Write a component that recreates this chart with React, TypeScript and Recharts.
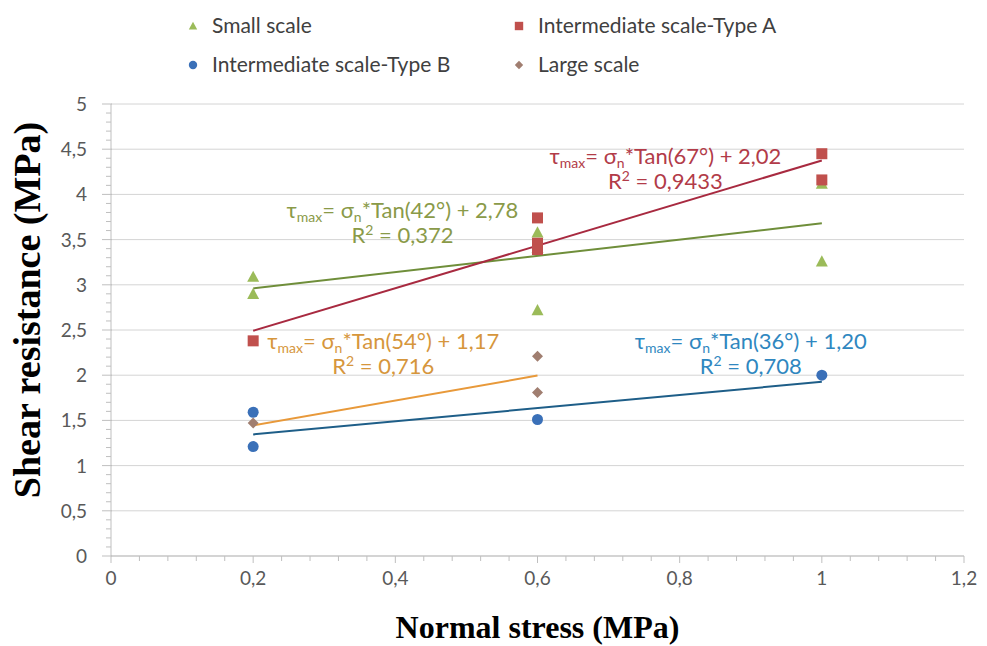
import React from 'react';
import {
  ScatterChart,
  Scatter,
  XAxis,
  YAxis,
  CartesianGrid,
  ReferenceLine,
  ReferenceDot,
  Label,
} from 'recharts';

// ---------- data ----------
const smallScale = [
  { x: 0.2, y: 3.09 },
  { x: 0.2, y: 2.9 },
  { x: 0.6, y: 3.58 },
  { x: 0.6, y: 3.41 },
  { x: 0.6, y: 2.72 },
  { x: 1.0, y: 4.12 },
  { x: 1.0, y: 3.26 },
];
const intermediateA = [
  { x: 0.2, y: 2.38 },
  { x: 0.6, y: 3.74 },
  { x: 0.6, y: 3.46 },
  { x: 0.6, y: 3.39 },
  { x: 1.0, y: 4.45 },
  { x: 1.0, y: 4.16 },
];
const intermediateB = [
  { x: 0.2, y: 1.59 },
  { x: 0.2, y: 1.21 },
  { x: 0.6, y: 1.51 },
  { x: 1.0, y: 2.0 },
];
const largeScale = [
  { x: 0.2, y: 1.47 },
  { x: 0.6, y: 2.21 },
  { x: 0.6, y: 1.81 },
];

const seriesNames = ['Small scale', 'Intermediate scale-Type A', 'Intermediate scale-Type B', 'Large scale'];
const seriesColors = ['#9BBB59', '#C0504D', '#3A70B8', '#A07E70'];
const trendColors = ['#6F8E3A', '#A82A40', '#1E5E88', '#E8993A'];
const eqColors = ['#8A9A48', '#B23B48', '#2F87C0', '#D6963C'];

// trendline parameters (angle in degrees, intercept)
const trendAngles = [42, 67, 36, 54];
const trendIntercepts = [2.78, 2.02, 1.2, 1.17];
const trendStart = [0.2, 0.2, 0.2, 0.2];
const trendEnd = [1.0, 1.0, 1.0, 0.6];
const interceptLabels = ['2,78', '2,02', '1,20', '1,17'];
const r2Labels = ['0,372', '0,9433', '0,708', '0,716'];
// annotation anchor (data coords, baseline of first line, centred)
const eqX = [0.41, 0.78, 0.9, 0.383];
const eqY = [3.74, 4.34, 2.29, 2.29];

const yMajorTicks = [0, 0.5, 1, 1.5, 2, 2.5, 3, 3.5, 4, 4.5, 5];
const xAllTicks = Array.from({ length: 31 }, (_, i) => +(i * 0.04).toFixed(2));
const yAllTicks = Array.from({ length: 51 }, (_, i) => +(i * 0.1).toFixed(1));

const FONT = 'Lato, "Open Sans", sans-serif';
const SERIF = '"Liberation Serif", "Times New Roman", serif';
const AXIS_COLOR = '#BFBFBF';
const LABEL_COLOR = '#595959';

const fmt = (v: number) => String(+v.toFixed(2)).replace('.', ',');
const isMajor = (v: number, step: number) => Math.abs(v / step - Math.round(v / step)) < 1e-6;

// ---------- shapes ----------
const Tri = ({ cx, cy, fill, s = 6 }: any) => (
  <polygon points={`${cx},${cy - s} ${cx + s},${cy + s * 0.85} ${cx - s},${cy + s * 0.85}`} fill={fill} />
);
const Sq = ({ cx, cy, fill, s = 5.5 }: any) => (
  <rect x={cx - s} y={cy - s} width={2 * s} height={2 * s} fill={fill} />
);
const Circ = ({ cx, cy, fill, s = 5.5 }: any) => <circle cx={cx} cy={cy} r={s} fill={fill} />;
const Dia = ({ cx, cy, fill, s = 5.5 }: any) => (
  <polygon points={`${cx},${cy - s} ${cx + s},${cy} ${cx},${cy + s} ${cx - s},${cy}`} fill={fill} />
);
const shapes = [Tri, Sq, Circ, Dia];

// ---------- ticks ----------
const YTick = ({ x, y, payload }: any) => {
  const v = payload.value;
  const major = isMajor(v, 0.5);
  return (
    <g>
      <line x1={x - (major ? 9 : 5)} x2={x + (major ? 1 : 0)} y1={y} y2={y} stroke={AXIS_COLOR} strokeWidth={1} />
      {major && (
        <text x={x - 24} y={y} dy={7} textAnchor="end" fontFamily={FONT} fontSize={19} fill={LABEL_COLOR}>
          {fmt(v)}
        </text>
      )}
    </g>
  );
};
const XTick = ({ x, y, payload }: any) => {
  const v = payload.value;
  const major = isMajor(v, 0.2);
  return (
    <g>
      <line x1={x} x2={x} y1={y} y2={y + (major ? 7 : 5)} stroke={AXIS_COLOR} strokeWidth={1} />
      {major && (
        <text x={x} y={y + 29} textAnchor="middle" fontFamily={FONT} fontSize={19} fill={LABEL_COLOR}>
          {fmt(v)}
        </text>
      )}
    </g>
  );
};

// ---------- legend ----------
const LegendBlock = () => {
  const pos = [
    { left: 184, top: 12 },
    { left: 510, top: 12 },
    { left: 184, top: 51 },
    { left: 510, top: 51 },
  ];
  return (
    <div style={{ position: 'absolute', left: 0, top: 0, width: 987, height: 90, pointerEvents: 'none' }}>
      {seriesNames.map((n, i) => {
        const Shape = shapes[i];
        return (
          <div
            key={n}
            style={{
              position: 'absolute',
              left: pos[i].left,
              top: pos[i].top,
              display: 'flex',
              alignItems: 'center',
              fontFamily: FONT,
              fontSize: 21,
              color: '#404040',
              whiteSpace: 'nowrap',
              lineHeight: '26px',
            }}
          >
            <svg width={18} height={26} style={{ marginRight: 10 }}>
              <Shape cx={9} cy={14} fill={seriesColors[i]} s={4.2} />
            </svg>
            {n}
          </div>
        );
      })}
    </div>
  );
};

// ---------- equation annotation ----------
const makeEq = (i: number) => (p: any) => {
  const { cx, cy } = p;
  const c = eqColors[i];
  return (
    <g>
      <text x={cx} y={cy} textAnchor="middle" fontFamily={FONT} fontSize={22} fill={c}>
        <tspan>τ</tspan>
        <tspan fontSize={14} dy={4}>max</tspan>
        <tspan dy={-4}>= σ</tspan>
        <tspan fontSize={14} dy={4}>n</tspan>
        <tspan dy={-4}>{`*Tan(${trendAngles[i]}°) + ${interceptLabels[i]}`}</tspan>
      </text>
      <text x={cx} y={cy + 25} textAnchor="middle" fontFamily={FONT} fontSize={22} fill={c}>
        <tspan>R</tspan>
        <tspan fontSize={14} dy={-8}>2</tspan>
        <tspan dy={8}>{` = ${r2Labels[i]}`}</tspan>
      </text>
    </g>
  );
};

const seriesData = [smallScale, intermediateA, intermediateB, largeScale];

export default function App() {
  return (
    <div style={{ position: 'absolute', left: 0, top: 0, width: 987, height: 646, background: '#fff' }}>
      <ScatterChart width={987} height={646} margin={{ top: 104, right: 23, bottom: 0, left: 0 }}>
        <CartesianGrid horizontal vertical={false} stroke="#D4D4D4" horizontalValues={yMajorTicks} />
        <XAxis
          dataKey="x"
          type="number"
          domain={[0, 1.2]}
          ticks={xAllTicks}
          interval={0}
          height={90}
          stroke={AXIS_COLOR}
          tickLine={false}
          tickSize={0}
          tickMargin={0}
          tick={<XTick />}
        >
          <Label
            content={({ viewBox }: any) => (
              <text
                x={viewBox.x + viewBox.width / 2}
                y={638}
                textAnchor="middle"
                fontFamily={SERIF}
                fontWeight="bold"
                fontSize={32}
                fill="#000"
              >
                Normal stress (MPa)
              </text>
            )}
          />
        </XAxis>
        <YAxis
          dataKey="y"
          type="number"
          domain={[0, 5]}
          ticks={yAllTicks}
          interval={0}
          width={111}
          stroke={AXIS_COLOR}
          tickLine={false}
          tickSize={0}
          tickMargin={0}
          tick={<YTick />}
        >
          <Label
            content={({ viewBox }: any) => {
              const cx = 40;
              const cy = viewBox.y + viewBox.height / 2 - 20;
              return (
                <text
                  x={cx}
                  y={cy}
                  transform={`rotate(-90 ${cx} ${cy})`}
                  textAnchor="middle"
                  fontFamily={SERIF}
                  fontWeight="bold"
                  fontSize={38}
                  fill="#000"
                >
                  Shear resistance (MPa)
                </text>
              );
            }}
          />
        </YAxis>
        {trendAngles.map((a, i) => {
          const k = Math.tan((a * Math.PI) / 180);
          return (
            <ReferenceLine
              key={'t' + i}
              segment={[
                { x: trendStart[i], y: k * trendStart[i] + trendIntercepts[i] },
                { x: trendEnd[i], y: k * trendEnd[i] + trendIntercepts[i] },
              ]}
              stroke={trendColors[i]}
              strokeWidth={2}
              ifOverflow="visible"
            />
          );
        })}
        {seriesData.map((d, i) => {
          const Shape = shapes[i];
          return (
            <Scatter
              key={seriesNames[i]}
              name={seriesNames[i]}
              data={d}
              fill={seriesColors[i]}
              isAnimationActive={false}
              shape={(p: any) => <Shape cx={p.cx} cy={p.cy} fill={seriesColors[i]} />}
            />
          );
        })}
        {eqX.map((x, i) => (
          <ReferenceDot key={'e' + i} x={x} y={eqY[i]} r={0} ifOverflow="visible" shape={makeEq(i)} />
        ))}
      </ScatterChart>
      <LegendBlock />
    </div>
  );
}
